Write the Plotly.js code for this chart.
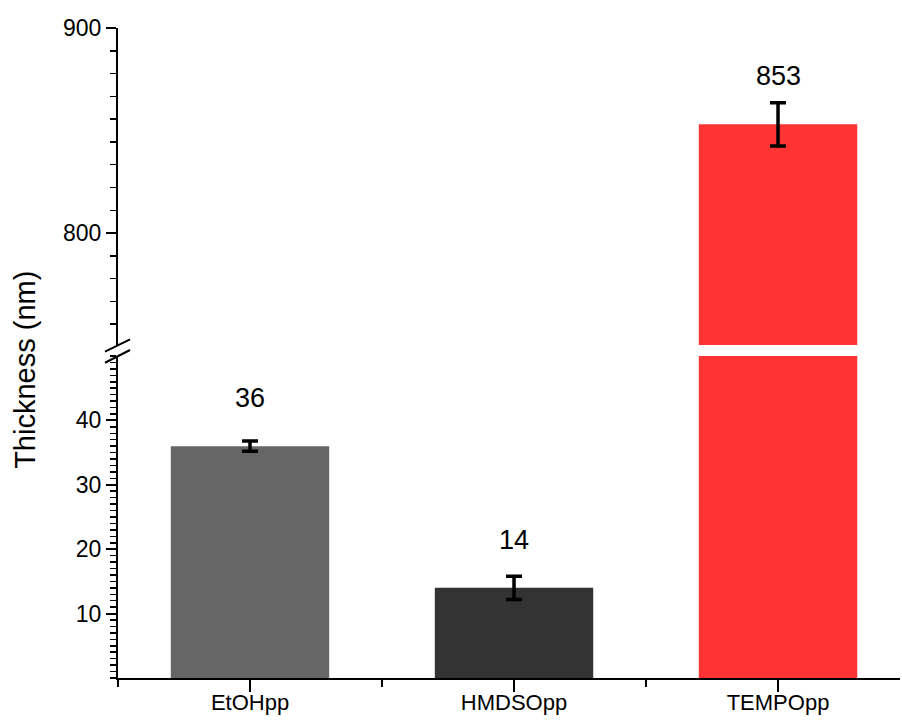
<!DOCTYPE html>
<html>
<head>
<meta charset="utf-8">
<script src="https://cdn.plot.ly/plotly-3.0.1.min.js"></script>
<style>html,body{margin:0;padding:0;background:#fff;}#chart{width:902px;height:720px;}</style>
</head>
<body>
<div id="chart"></div>
<script>
// ---- data ----
const categories = ["EtOHpp", "HMDSOpp", "TEMPOpp"];
const thickness = [36, 14, 853];
const errors = [0.8, 1.8, 10.5];
const valueLabels = ["36", "14", "853"];
const barColors = ["#666666", "#333333", "#FF3333"];
const lowerTickVals = [10, 20, 30, 40];
const upperTickVals = [800, 900];
const lowerRange = [0, 50];
const upperRange = [745.4, 900];

const xs = categories.map((_, i) => i);
const FONT = "Liberation Sans, Arial, sans-serif";

function barTrace(yaxis) {
  return {
    type: "bar",
    x: xs,
    y: thickness,
    width: 0.6,
    yaxis: yaxis,
    xaxis: "x",
    marker: { color: barColors, line: { width: 0 } },
    error_y: { type: "data", array: errors, visible: true, color: "#000", thickness: 3.5, width: 8 },
    hoverinfo: "skip",
    showlegend: false
  };
}

const data = [barTrace("y"), barTrace("y2")];

const annotations = thickness.map((v, i) => ({
  x: xs[i], y: v, xref: "x", yref: v > lowerRange[1] ? "y2" : "y",
  text: valueLabels[i], showarrow: false, xanchor: "center", yanchor: "middle", yshift: 48,
  font: { family: FONT, size: 27, color: "#000" }
}));
annotations.push({
  x: -0.119, y: 0.474, xref: "paper", yref: "paper", text: "Thickness (nm)",
  showarrow: false, textangle: -90, xanchor: "center", yanchor: "middle",
  font: { family: FONT, size: 29, color: "#000" }
});

const breakLine = { color: "#000", width: 2 };
const shapes = [
  { type: "line", xref: "paper", yref: "paper", x0: -0.0166, y0: 0.502, x1: 0.0154, y1: 0.521, line: breakLine },
  { type: "line", xref: "paper", yref: "paper", x0: -0.0166, y0: 0.485, x1: 0.0154, y1: 0.5046, line: breakLine }
];

const axisCommon = {
  showgrid: false, zeroline: false, showline: true, linecolor: "#000", linewidth: 2,
  ticks: "outside", ticklen: 10, tickwidth: 2, tickcolor: "#000",
  tickfont: { family: FONT, size: 23, color: "#000" }
};

const layout = {
  width: 902, height: 720,
  margin: { l: 118, r: 2, t: 28, b: 42 },
  paper_bgcolor: "#fff", plot_bgcolor: "#fff",
  font: { family: FONT, color: "#000" },
  bargap: 0.4,
  xaxis: Object.assign({}, axisCommon, {
    range: [-0.5, 2.462], anchor: "y",
    tickmode: "array", tickvals: xs, ticktext: categories,
    ticklen: 12,
    ticklabelstandoff: -8,
    tickfont: { family: FONT, size: 22, color: "#000" },
    minor: { tickmode: "array", tickvals: xs.map(v => v - 0.5).concat([xs.length - 0.5]), ticks: "outside", ticklen: 7, tickwidth: 2, tickcolor: "#000" }
  }),
  yaxis: Object.assign({}, axisCommon, {
    domain: [0, 0.4954], range: lowerRange, anchor: "x",
    tickmode: "array", tickvals: lowerTickVals,
    minor: { dtick: 1, tick0: 0, ticks: "outside", ticklen: 6, tickwidth: 1.5, tickcolor: "#000" }
  }),
  yaxis2: Object.assign({}, axisCommon, {
    domain: [0.5123, 1], range: upperRange, anchor: "x",
    tickmode: "array", tickvals: upperTickVals,
    minor: { dtick: 100 / 9, tick0: 800, ticks: "outside", ticklen: 6, tickwidth: 1.5, tickcolor: "#000" }
  }),
  annotations: annotations,
  shapes: shapes
};

Plotly.newPlot("chart", data, layout, { displayModeBar: false, staticPlot: true });
</script>
</body>
</html>
